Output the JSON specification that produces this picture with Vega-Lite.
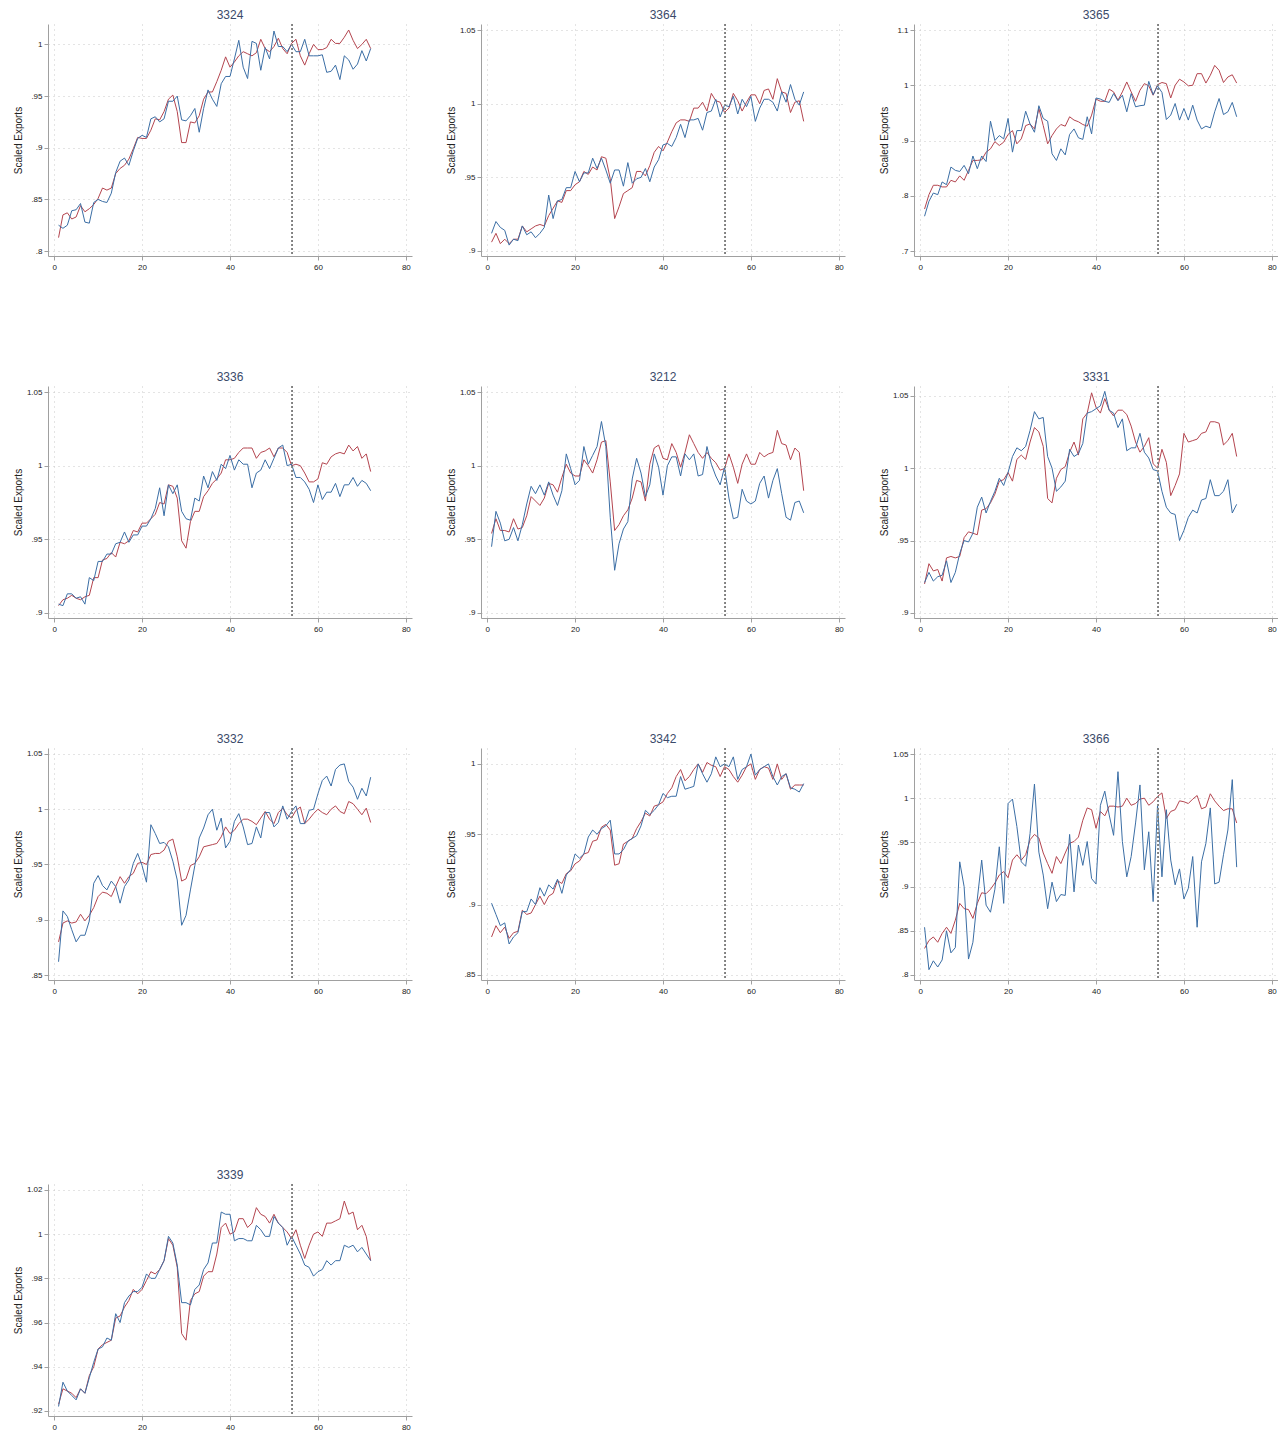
{
"$schema": "https://vega.github.io/schema/vega-lite/v6.json",
"padding": {"left": 13, "top": 8, "right": 0, "bottom": 0},
"background": "white",
"datasets": {
"p3324": [{"t":1,"r":0.813,"b":0.825},{"t":2,"r":0.835,"b":0.822},{"t":3,"r":0.837,"b":0.825},{"t":4,"r":0.831,"b":0.839},{"t":5,"r":0.833,"b":0.840},{"t":6,"r":0.844,"b":0.846},{"t":7,"r":0.838,"b":0.828},{"t":8,"r":0.841,"b":0.827},{"t":9,"r":0.845,"b":0.847},{"t":10,"r":0.851,"b":0.850},{"t":11,"r":0.861,"b":0.848},{"t":12,"r":0.859,"b":0.847},{"t":13,"r":0.861,"b":0.856},{"t":14,"r":0.875,"b":0.876},{"t":15,"r":0.880,"b":0.887},{"t":16,"r":0.883,"b":0.890},{"t":17,"r":0.889,"b":0.883},{"t":18,"r":0.899,"b":0.897},{"t":19,"r":0.910,"b":0.909},{"t":20,"r":0.909,"b":0.912},{"t":21,"r":0.909,"b":0.910},{"t":22,"r":0.917,"b":0.928},{"t":23,"r":0.928,"b":0.930},{"t":24,"r":0.927,"b":0.925},{"t":25,"r":0.935,"b":0.928},{"t":26,"r":0.947,"b":0.945},{"t":27,"r":0.951,"b":0.945},{"t":28,"r":0.935,"b":0.950},{"t":29,"r":0.905,"b":0.927},{"t":30,"r":0.905,"b":0.926},{"t":31,"r":0.925,"b":0.931},{"t":32,"r":0.924,"b":0.938},{"t":33,"r":0.931,"b":0.915},{"t":34,"r":0.947,"b":0.938},{"t":35,"r":0.954,"b":0.956},{"t":36,"r":0.954,"b":0.947},{"t":37,"r":0.964,"b":0.940},{"t":38,"r":0.975,"b":0.962},{"t":39,"r":0.988,"b":0.969},{"t":40,"r":0.978,"b":0.969},{"t":41,"r":0.983,"b":0.986},{"t":42,"r":0.989,"b":1.004},{"t":43,"r":0.993,"b":0.978},{"t":44,"r":0.991,"b":0.967},{"t":45,"r":0.989,"b":1.003},{"t":46,"r":0.992,"b":1.001},{"t":47,"r":1.005,"b":0.975},{"t":48,"r":0.996,"b":0.997},{"t":49,"r":0.993,"b":0.986},{"t":50,"r":0.998,"b":1.013},{"t":51,"r":1.006,"b":0.998},{"t":52,"r":0.996,"b":0.998},{"t":53,"r":0.991,"b":0.993},{"t":54,"r":1.001,"b":1.000},{"t":55,"r":1.005,"b":0.993},{"t":56,"r":0.989,"b":0.993},{"t":57,"r":0.980,"b":1.005},{"t":58,"r":0.991,"b":0.989},{"t":59,"r":1.000,"b":0.989},{"t":60,"r":0.995,"b":0.989},{"t":61,"r":0.995,"b":0.990},{"t":62,"r":0.997,"b":0.973},{"t":63,"r":1.005,"b":0.974},{"t":64,"r":1.001,"b":0.980},{"t":65,"r":1.001,"b":0.966},{"t":66,"r":1.007,"b":0.989},{"t":67,"r":1.014,"b":0.985},{"t":68,"r":1.004,"b":0.976},{"t":69,"r":0.996,"b":0.981},{"t":70,"r":1.000,"b":0.994},{"t":71,"r":1.005,"b":0.984},{"t":72,"r":0.996,"b":0.996}],
"p3364": [{"t":1,"r":0.906,"b":0.912},{"t":2,"r":0.912,"b":0.920},{"t":3,"r":0.905,"b":0.916},{"t":4,"r":0.908,"b":0.914},{"t":5,"r":0.905,"b":0.904},{"t":6,"r":0.908,"b":0.908},{"t":7,"r":0.908,"b":0.907},{"t":8,"r":0.917,"b":0.917},{"t":9,"r":0.913,"b":0.911},{"t":10,"r":0.915,"b":0.913},{"t":11,"r":0.917,"b":0.909},{"t":12,"r":0.918,"b":0.912},{"t":13,"r":0.917,"b":0.916},{"t":14,"r":0.924,"b":0.938},{"t":15,"r":0.929,"b":0.922},{"t":16,"r":0.934,"b":0.934},{"t":17,"r":0.933,"b":0.935},{"t":18,"r":0.941,"b":0.943},{"t":19,"r":0.941,"b":0.943},{"t":20,"r":0.945,"b":0.954},{"t":21,"r":0.947,"b":0.947},{"t":22,"r":0.954,"b":0.953},{"t":23,"r":0.952,"b":0.953},{"t":24,"r":0.957,"b":0.963},{"t":25,"r":0.955,"b":0.956},{"t":26,"r":0.964,"b":0.963},{"t":27,"r":0.963,"b":0.955},{"t":28,"r":0.949,"b":0.946},{"t":29,"r":0.922,"b":0.955},{"t":30,"r":0.930,"b":0.955},{"t":31,"r":0.939,"b":0.944},{"t":32,"r":0.941,"b":0.960},{"t":33,"r":0.943,"b":0.946},{"t":34,"r":0.954,"b":0.949},{"t":35,"r":0.954,"b":0.950},{"t":36,"r":0.951,"b":0.956},{"t":37,"r":0.958,"b":0.947},{"t":38,"r":0.967,"b":0.957},{"t":39,"r":0.971,"b":0.962},{"t":40,"r":0.968,"b":0.972},{"t":41,"r":0.974,"b":0.973},{"t":42,"r":0.981,"b":0.971},{"t":43,"r":0.987,"b":0.977},{"t":44,"r":0.989,"b":0.986},{"t":45,"r":0.989,"b":0.977},{"t":46,"r":0.988,"b":0.989},{"t":47,"r":0.997,"b":0.989},{"t":48,"r":0.997,"b":0.990},{"t":49,"r":1.001,"b":0.982},{"t":50,"r":0.995,"b":0.994},{"t":51,"r":1.007,"b":0.995},{"t":52,"r":1.002,"b":1.003},{"t":53,"r":1.001,"b":0.991},{"t":54,"r":0.994,"b":0.999},{"t":55,"r":0.997,"b":0.998},{"t":56,"r":1.007,"b":1.005},{"t":57,"r":1.002,"b":0.993},{"t":58,"r":0.995,"b":1.003},{"t":59,"r":1.001,"b":0.998},{"t":60,"r":1.006,"b":1.005},{"t":61,"r":1.006,"b":0.988},{"t":62,"r":1.000,"b":0.997},{"t":63,"r":1.009,"b":1.003},{"t":64,"r":1.010,"b":1.003},{"t":65,"r":1.003,"b":1.001},{"t":66,"r":1.017,"b":0.995},{"t":67,"r":1.008,"b":1.008},{"t":68,"r":1.007,"b":1.001},{"t":69,"r":0.994,"b":1.013},{"t":70,"r":1.001,"b":1.003},{"t":71,"r":1.002,"b":0.999},{"t":72,"r":0.988,"b":1.008}],
"p3365": [{"t":1,"r":0.776,"b":0.763},{"t":2,"r":0.802,"b":0.790},{"t":3,"r":0.819,"b":0.805},{"t":4,"r":0.819,"b":0.802},{"t":5,"r":0.816,"b":0.825},{"t":6,"r":0.816,"b":0.820},{"t":7,"r":0.828,"b":0.852},{"t":8,"r":0.825,"b":0.846},{"t":9,"r":0.836,"b":0.844},{"t":10,"r":0.828,"b":0.855},{"t":11,"r":0.846,"b":0.840},{"t":12,"r":0.864,"b":0.872},{"t":13,"r":0.864,"b":0.849},{"t":14,"r":0.865,"b":0.872},{"t":15,"r":0.879,"b":0.862},{"t":16,"r":0.885,"b":0.935},{"t":17,"r":0.898,"b":0.900},{"t":18,"r":0.891,"b":0.909},{"t":19,"r":0.897,"b":0.903},{"t":20,"r":0.911,"b":0.940},{"t":21,"r":0.918,"b":0.879},{"t":22,"r":0.894,"b":0.918},{"t":23,"r":0.903,"b":0.918},{"t":24,"r":0.927,"b":0.953},{"t":25,"r":0.930,"b":0.930},{"t":26,"r":0.921,"b":0.915},{"t":27,"r":0.958,"b":0.963},{"t":28,"r":0.927,"b":0.940},{"t":29,"r":0.894,"b":0.935},{"t":30,"r":0.909,"b":0.876},{"t":31,"r":0.921,"b":0.864},{"t":32,"r":0.929,"b":0.885},{"t":33,"r":0.926,"b":0.874},{"t":34,"r":0.943,"b":0.911},{"t":35,"r":0.937,"b":0.921},{"t":36,"r":0.934,"b":0.905},{"t":37,"r":0.929,"b":0.902},{"t":38,"r":0.926,"b":0.943},{"t":39,"r":0.946,"b":0.912},{"t":40,"r":0.975,"b":0.977},{"t":41,"r":0.971,"b":0.975},{"t":42,"r":0.971,"b":0.971},{"t":43,"r":0.993,"b":0.969},{"t":44,"r":0.988,"b":0.985},{"t":45,"r":0.973,"b":0.972},{"t":46,"r":0.988,"b":0.982},{"t":47,"r":1.006,"b":0.952},{"t":48,"r":0.988,"b":0.985},{"t":49,"r":0.971,"b":0.961},{"t":50,"r":0.991,"b":0.963},{"t":51,"r":1.003,"b":0.964},{"t":52,"r":0.999,"b":1.007},{"t":53,"r":0.982,"b":0.983},{"t":54,"r":1.001,"b":0.999},{"t":55,"r":1.005,"b":0.987},{"t":56,"r":1.003,"b":0.938},{"t":57,"r":0.977,"b":0.946},{"t":58,"r":1.000,"b":0.967},{"t":59,"r":1.011,"b":0.937},{"t":60,"r":1.006,"b":0.958},{"t":61,"r":0.999,"b":0.937},{"t":62,"r":1.000,"b":0.964},{"t":63,"r":1.021,"b":0.937},{"t":64,"r":1.021,"b":0.921},{"t":65,"r":1.004,"b":0.926},{"t":66,"r":1.018,"b":0.923},{"t":67,"r":1.036,"b":0.952},{"t":68,"r":1.027,"b":0.976},{"t":69,"r":1.005,"b":0.947},{"t":70,"r":1.015,"b":0.952},{"t":71,"r":1.019,"b":0.969},{"t":72,"r":1.004,"b":0.943}],
"p3336": [{"t":1,"r":0.905,"b":0.906},{"t":2,"r":0.909,"b":0.905},{"t":3,"r":0.910,"b":0.913},{"t":4,"r":0.912,"b":0.913},{"t":5,"r":0.910,"b":0.910},{"t":6,"r":0.909,"b":0.911},{"t":7,"r":0.911,"b":0.906},{"t":8,"r":0.912,"b":0.924},{"t":9,"r":0.924,"b":0.922},{"t":10,"r":0.924,"b":0.935},{"t":11,"r":0.936,"b":0.935},{"t":12,"r":0.937,"b":0.940},{"t":13,"r":0.941,"b":0.940},{"t":14,"r":0.938,"b":0.947},{"t":15,"r":0.948,"b":0.948},{"t":16,"r":0.947,"b":0.955},{"t":17,"r":0.949,"b":0.948},{"t":18,"r":0.956,"b":0.953},{"t":19,"r":0.955,"b":0.953},{"t":20,"r":0.961,"b":0.959},{"t":21,"r":0.961,"b":0.959},{"t":22,"r":0.964,"b":0.964},{"t":23,"r":0.967,"b":0.971},{"t":24,"r":0.975,"b":0.985},{"t":25,"r":0.974,"b":0.966},{"t":26,"r":0.987,"b":0.987},{"t":27,"r":0.986,"b":0.981},{"t":28,"r":0.978,"b":0.987},{"t":29,"r":0.949,"b":0.969},{"t":30,"r":0.944,"b":0.964},{"t":31,"r":0.962,"b":0.963},{"t":32,"r":0.969,"b":0.978},{"t":33,"r":0.969,"b":0.976},{"t":34,"r":0.979,"b":0.993},{"t":35,"r":0.983,"b":0.985},{"t":36,"r":0.988,"b":0.996},{"t":37,"r":0.991,"b":0.990},{"t":38,"r":0.995,"b":1.001},{"t":39,"r":1.004,"b":0.998},{"t":40,"r":1.004,"b":1.007},{"t":41,"r":1.005,"b":0.997},{"t":42,"r":1.009,"b":1.004},{"t":43,"r":1.012,"b":1.001},{"t":44,"r":1.012,"b":1.001},{"t":45,"r":1.012,"b":0.985},{"t":46,"r":1.005,"b":0.995},{"t":47,"r":1.009,"b":0.997},{"t":48,"r":1.010,"b":1.004},{"t":49,"r":1.012,"b":0.998},{"t":50,"r":1.006,"b":1.005},{"t":51,"r":1.012,"b":1.012},{"t":52,"r":1.012,"b":1.014},{"t":53,"r":1.009,"b":1.000},{"t":54,"r":1.000,"b":1.001},{"t":55,"r":1.001,"b":0.992},{"t":56,"r":1.000,"b":0.992},{"t":57,"r":0.995,"b":0.989},{"t":58,"r":0.989,"b":0.984},{"t":59,"r":0.989,"b":0.975},{"t":60,"r":0.991,"b":0.987},{"t":61,"r":1.002,"b":0.977},{"t":62,"r":1.001,"b":0.982},{"t":63,"r":1.006,"b":0.982},{"t":64,"r":1.008,"b":0.988},{"t":65,"r":1.009,"b":0.979},{"t":66,"r":1.008,"b":0.987},{"t":67,"r":1.014,"b":0.987},{"t":68,"r":1.010,"b":0.992},{"t":69,"r":1.013,"b":0.986},{"t":70,"r":1.005,"b":0.990},{"t":71,"r":1.008,"b":0.988},{"t":72,"r":0.996,"b":0.983}],
"p3212": [{"t":1,"r":0.954,"b":0.945},{"t":2,"r":0.964,"b":0.969},{"t":3,"r":0.956,"b":0.961},{"t":4,"r":0.956,"b":0.949},{"t":5,"r":0.955,"b":0.950},{"t":6,"r":0.964,"b":0.958},{"t":7,"r":0.957,"b":0.949},{"t":8,"r":0.958,"b":0.960},{"t":9,"r":0.966,"b":0.974},{"t":10,"r":0.979,"b":0.986},{"t":11,"r":0.976,"b":0.981},{"t":12,"r":0.973,"b":0.987},{"t":13,"r":0.978,"b":0.980},{"t":14,"r":0.988,"b":0.989},{"t":15,"r":0.987,"b":0.980},{"t":16,"r":0.982,"b":0.973},{"t":17,"r":0.992,"b":0.983},{"t":18,"r":1.001,"b":1.008},{"t":19,"r":0.995,"b":0.998},{"t":20,"r":0.993,"b":0.987},{"t":21,"r":0.993,"b":0.990},{"t":22,"r":1.004,"b":1.013},{"t":23,"r":1.000,"b":1.001},{"t":24,"r":0.995,"b":1.007},{"t":25,"r":1.004,"b":1.013},{"t":26,"r":1.016,"b":1.030},{"t":27,"r":1.017,"b":1.013},{"t":28,"r":0.989,"b":0.965},{"t":29,"r":0.956,"b":0.929},{"t":30,"r":0.960,"b":0.947},{"t":31,"r":0.966,"b":0.957},{"t":32,"r":0.970,"b":0.962},{"t":33,"r":0.978,"b":0.991},{"t":34,"r":0.990,"b":1.005},{"t":35,"r":0.989,"b":0.995},{"t":36,"r":0.976,"b":0.979},{"t":37,"r":1.001,"b":0.987},{"t":38,"r":1.012,"b":1.008},{"t":39,"r":1.014,"b":0.999},{"t":40,"r":1.005,"b":0.980},{"t":41,"r":1.004,"b":1.000},{"t":42,"r":1.015,"b":1.006},{"t":43,"r":1.009,"b":1.006},{"t":44,"r":0.999,"b":0.993},{"t":45,"r":1.009,"b":1.008},{"t":46,"r":1.021,"b":1.004},{"t":47,"r":1.015,"b":1.008},{"t":48,"r":1.009,"b":0.993},{"t":49,"r":1.005,"b":0.994},{"t":50,"r":1.009,"b":1.013},{"t":51,"r":1.005,"b":1.001},{"t":52,"r":1.002,"b":0.993},{"t":53,"r":0.997,"b":0.987},{"t":54,"r":0.998,"b":0.999},{"t":55,"r":1.008,"b":0.978},{"t":56,"r":0.999,"b":0.964},{"t":57,"r":0.988,"b":0.965},{"t":58,"r":1.001,"b":0.984},{"t":59,"r":1.008,"b":0.976},{"t":60,"r":1.001,"b":0.974},{"t":61,"r":1.001,"b":0.976},{"t":62,"r":1.009,"b":0.988},{"t":63,"r":1.006,"b":0.993},{"t":64,"r":1.008,"b":0.978},{"t":65,"r":1.009,"b":0.990},{"t":66,"r":1.024,"b":0.998},{"t":67,"r":1.015,"b":0.981},{"t":68,"r":1.014,"b":0.965},{"t":69,"r":1.004,"b":0.963},{"t":70,"r":1.012,"b":0.975},{"t":71,"r":1.009,"b":0.976},{"t":72,"r":0.983,"b":0.968}],
"p3331": [{"t":1,"r":0.920,"b":0.921},{"t":2,"r":0.934,"b":0.928},{"t":3,"r":0.929,"b":0.922},{"t":4,"r":0.930,"b":0.925},{"t":5,"r":0.922,"b":0.926},{"t":6,"r":0.938,"b":0.936},{"t":7,"r":0.939,"b":0.921},{"t":8,"r":0.938,"b":0.928},{"t":9,"r":0.939,"b":0.941},{"t":10,"r":0.952,"b":0.950},{"t":11,"r":0.956,"b":0.949},{"t":12,"r":0.955,"b":0.955},{"t":13,"r":0.954,"b":0.973},{"t":14,"r":0.971,"b":0.980},{"t":15,"r":0.972,"b":0.969},{"t":16,"r":0.976,"b":0.977},{"t":17,"r":0.982,"b":0.984},{"t":18,"r":0.991,"b":0.993},{"t":19,"r":0.992,"b":0.988},{"t":20,"r":0.997,"b":0.997},{"t":21,"r":0.991,"b":1.008},{"t":22,"r":1.006,"b":1.014},{"t":23,"r":1.009,"b":1.012},{"t":24,"r":1.006,"b":1.015},{"t":25,"r":1.018,"b":1.026},{"t":26,"r":1.028,"b":1.039},{"t":27,"r":1.025,"b":1.034},{"t":28,"r":1.015,"b":1.035},{"t":29,"r":0.979,"b":1.008},{"t":30,"r":0.976,"b":1.000},{"t":31,"r":0.993,"b":0.984},{"t":32,"r":0.999,"b":0.987},{"t":33,"r":1.001,"b":0.991},{"t":34,"r":1.011,"b":1.013},{"t":35,"r":1.018,"b":1.008},{"t":36,"r":1.009,"b":1.010},{"t":37,"r":1.034,"b":1.017},{"t":38,"r":1.038,"b":1.038},{"t":39,"r":1.052,"b":1.039},{"t":40,"r":1.042,"b":1.041},{"t":41,"r":1.038,"b":1.043},{"t":42,"r":1.048,"b":1.053},{"t":43,"r":1.040,"b":1.040},{"t":44,"r":1.036,"b":1.038},{"t":45,"r":1.040,"b":1.028},{"t":46,"r":1.040,"b":1.034},{"t":47,"r":1.037,"b":1.012},{"t":48,"r":1.029,"b":1.014},{"t":49,"r":1.018,"b":1.014},{"t":50,"r":1.011,"b":1.024},{"t":51,"r":1.015,"b":1.011},{"t":52,"r":1.021,"b":1.007},{"t":53,"r":1.003,"b":0.999},{"t":54,"r":1.000,"b":0.998},{"t":55,"r":1.013,"b":0.984},{"t":56,"r":1.004,"b":0.973},{"t":57,"r":0.981,"b":0.969},{"t":58,"r":0.988,"b":0.968},{"t":59,"r":0.996,"b":0.950},{"t":60,"r":1.024,"b":0.957},{"t":61,"r":1.018,"b":0.966},{"t":62,"r":1.019,"b":0.971},{"t":63,"r":1.020,"b":0.969},{"t":64,"r":1.024,"b":0.978},{"t":65,"r":1.025,"b":0.979},{"t":66,"r":1.032,"b":0.992},{"t":67,"r":1.032,"b":0.981},{"t":68,"r":1.031,"b":0.981},{"t":69,"r":1.016,"b":0.984},{"t":70,"r":1.019,"b":0.992},{"t":71,"r":1.024,"b":0.969},{"t":72,"r":1.008,"b":0.975}],
"p3332": [{"t":1,"r":0.880,"b":0.862},{"t":2,"r":0.897,"b":0.908},{"t":3,"r":0.899,"b":0.903},{"t":4,"r":0.897,"b":0.891},{"t":5,"r":0.898,"b":0.880},{"t":6,"r":0.905,"b":0.886},{"t":7,"r":0.899,"b":0.886},{"t":8,"r":0.904,"b":0.899},{"t":9,"r":0.911,"b":0.933},{"t":10,"r":0.921,"b":0.940},{"t":11,"r":0.925,"b":0.931},{"t":12,"r":0.924,"b":0.927},{"t":13,"r":0.921,"b":0.935},{"t":14,"r":0.930,"b":0.930},{"t":15,"r":0.939,"b":0.915},{"t":16,"r":0.933,"b":0.930},{"t":17,"r":0.939,"b":0.936},{"t":18,"r":0.942,"b":0.951},{"t":19,"r":0.951,"b":0.960},{"t":20,"r":0.952,"b":0.949},{"t":21,"r":0.950,"b":0.934},{"t":22,"r":0.959,"b":0.986},{"t":23,"r":0.960,"b":0.978},{"t":24,"r":0.960,"b":0.969},{"t":25,"r":0.963,"b":0.970},{"t":26,"r":0.971,"b":0.966},{"t":27,"r":0.973,"b":0.953},{"t":28,"r":0.957,"b":0.936},{"t":29,"r":0.935,"b":0.895},{"t":30,"r":0.937,"b":0.904},{"t":31,"r":0.949,"b":0.927},{"t":32,"r":0.951,"b":0.949},{"t":33,"r":0.957,"b":0.974},{"t":34,"r":0.966,"b":0.983},{"t":35,"r":0.967,"b":0.995},{"t":36,"r":0.968,"b":1.000},{"t":37,"r":0.969,"b":0.981},{"t":38,"r":0.975,"b":0.992},{"t":39,"r":0.984,"b":0.965},{"t":40,"r":0.978,"b":0.971},{"t":41,"r":0.981,"b":0.989},{"t":42,"r":0.987,"b":0.996},{"t":43,"r":0.991,"b":0.984},{"t":44,"r":0.991,"b":0.968},{"t":45,"r":0.989,"b":0.969},{"t":46,"r":0.986,"b":0.984},{"t":47,"r":0.992,"b":0.974},{"t":48,"r":0.998,"b":0.997},{"t":49,"r":0.991,"b":0.997},{"t":50,"r":0.987,"b":0.984},{"t":51,"r":0.997,"b":0.988},{"t":52,"r":1.001,"b":1.003},{"t":53,"r":0.995,"b":0.991},{"t":54,"r":0.992,"b":0.998},{"t":55,"r":0.999,"b":1.003},{"t":56,"r":1.002,"b":0.987},{"t":57,"r":0.987,"b":0.987},{"t":58,"r":0.991,"b":0.999},{"t":59,"r":0.996,"b":1.000},{"t":60,"r":1.000,"b":1.014},{"t":61,"r":0.997,"b":1.026},{"t":62,"r":0.995,"b":1.030},{"t":63,"r":1.000,"b":1.021},{"t":64,"r":1.003,"b":1.036},{"t":65,"r":0.998,"b":1.040},{"t":66,"r":0.996,"b":1.041},{"t":67,"r":1.007,"b":1.025},{"t":68,"r":1.005,"b":1.020},{"t":69,"r":1.000,"b":1.009},{"t":70,"r":0.995,"b":1.019},{"t":71,"r":1.001,"b":1.012},{"t":72,"r":0.988,"b":1.029}],
"p3342": [{"t":1,"r":0.877,"b":0.901},{"t":2,"r":0.885,"b":0.893},{"t":3,"r":0.880,"b":0.885},{"t":4,"r":0.884,"b":0.887},{"t":5,"r":0.876,"b":0.872},{"t":6,"r":0.880,"b":0.877},{"t":7,"r":0.881,"b":0.880},{"t":8,"r":0.896,"b":0.895},{"t":9,"r":0.893,"b":0.895},{"t":10,"r":0.894,"b":0.904},{"t":11,"r":0.900,"b":0.900},{"t":12,"r":0.906,"b":0.912},{"t":13,"r":0.900,"b":0.906},{"t":14,"r":0.906,"b":0.914},{"t":15,"r":0.908,"b":0.911},{"t":16,"r":0.917,"b":0.918},{"t":17,"r":0.915,"b":0.908},{"t":18,"r":0.922,"b":0.921},{"t":19,"r":0.924,"b":0.925},{"t":20,"r":0.929,"b":0.936},{"t":21,"r":0.931,"b":0.933},{"t":22,"r":0.936,"b":0.936},{"t":23,"r":0.937,"b":0.948},{"t":24,"r":0.945,"b":0.953},{"t":25,"r":0.946,"b":0.950},{"t":26,"r":0.955,"b":0.954},{"t":27,"r":0.957,"b":0.956},{"t":28,"r":0.953,"b":0.960},{"t":29,"r":0.928,"b":0.936},{"t":30,"r":0.929,"b":0.936},{"t":31,"r":0.943,"b":0.939},{"t":32,"r":0.945,"b":0.945},{"t":33,"r":0.947,"b":0.947},{"t":34,"r":0.954,"b":0.949},{"t":35,"r":0.959,"b":0.956},{"t":36,"r":0.965,"b":0.967},{"t":37,"r":0.963,"b":0.964},{"t":38,"r":0.970,"b":0.967},{"t":39,"r":0.971,"b":0.971},{"t":40,"r":0.973,"b":0.979},{"t":41,"r":0.979,"b":0.976},{"t":42,"r":0.983,"b":0.977},{"t":43,"r":0.991,"b":0.977},{"t":44,"r":0.996,"b":0.991},{"t":45,"r":0.988,"b":0.982},{"t":46,"r":0.991,"b":0.983},{"t":47,"r":0.996,"b":0.984},{"t":48,"r":1.000,"b":1.000},{"t":49,"r":0.994,"b":0.993},{"t":50,"r":1.001,"b":0.987},{"t":51,"r":0.999,"b":0.993},{"t":52,"r":0.998,"b":1.005},{"t":53,"r":0.991,"b":0.998},{"t":54,"r":0.998,"b":1.000},{"t":55,"r":0.996,"b":0.998},{"t":56,"r":0.991,"b":1.005},{"t":57,"r":0.987,"b":0.989},{"t":58,"r":0.992,"b":0.996},{"t":59,"r":0.998,"b":0.998},{"t":60,"r":1.000,"b":1.007},{"t":61,"r":0.989,"b":0.992},{"t":62,"r":0.996,"b":0.996},{"t":63,"r":0.998,"b":0.998},{"t":64,"r":0.997,"b":1.000},{"t":65,"r":0.989,"b":0.991},{"t":66,"r":1.000,"b":0.985},{"t":67,"r":0.989,"b":0.991},{"t":68,"r":0.993,"b":0.993},{"t":69,"r":0.982,"b":0.983},{"t":70,"r":0.985,"b":0.982},{"t":71,"r":0.985,"b":0.980},{"t":72,"r":0.985,"b":0.986}],
"p3366": [{"t":1,"r":0.830,"b":0.854},{"t":2,"r":0.839,"b":0.806},{"t":3,"r":0.843,"b":0.816},{"t":4,"r":0.837,"b":0.809},{"t":5,"r":0.847,"b":0.817},{"t":6,"r":0.854,"b":0.850},{"t":7,"r":0.847,"b":0.825},{"t":8,"r":0.862,"b":0.831},{"t":9,"r":0.881,"b":0.928},{"t":10,"r":0.875,"b":0.900},{"t":11,"r":0.874,"b":0.818},{"t":12,"r":0.864,"b":0.837},{"t":13,"r":0.881,"b":0.886},{"t":14,"r":0.893,"b":0.930},{"t":15,"r":0.892,"b":0.879},{"t":16,"r":0.897,"b":0.871},{"t":17,"r":0.904,"b":0.897},{"t":18,"r":0.913,"b":0.945},{"t":19,"r":0.917,"b":0.881},{"t":20,"r":0.910,"b":0.994},{"t":21,"r":0.930,"b":0.999},{"t":22,"r":0.936,"b":0.968},{"t":23,"r":0.930,"b":0.928},{"t":24,"r":0.936,"b":0.923},{"t":25,"r":0.953,"b":0.960},{"t":26,"r":0.959,"b":1.016},{"t":27,"r":0.955,"b":0.939},{"t":28,"r":0.938,"b":0.913},{"t":29,"r":0.926,"b":0.875},{"t":30,"r":0.915,"b":0.905},{"t":31,"r":0.934,"b":0.883},{"t":32,"r":0.926,"b":0.891},{"t":33,"r":0.938,"b":0.890},{"t":34,"r":0.949,"b":0.959},{"t":35,"r":0.951,"b":0.894},{"t":36,"r":0.956,"b":0.947},{"t":37,"r":0.975,"b":0.924},{"t":38,"r":0.989,"b":0.951},{"t":39,"r":0.987,"b":0.909},{"t":40,"r":0.966,"b":0.903},{"t":41,"r":0.985,"b":0.992},{"t":42,"r":0.980,"b":1.008},{"t":43,"r":0.991,"b":0.981},{"t":44,"r":0.991,"b":0.958},{"t":45,"r":0.990,"b":1.030},{"t":46,"r":0.991,"b":0.951},{"t":47,"r":1.000,"b":0.911},{"t":48,"r":0.992,"b":0.934},{"t":49,"r":0.994,"b":0.972},{"t":50,"r":0.999,"b":1.015},{"t":51,"r":1.000,"b":0.919},{"t":52,"r":0.992,"b":0.962},{"t":53,"r":0.996,"b":0.883},{"t":54,"r":1.002,"b":0.992},{"t":55,"r":1.006,"b":0.911},{"t":56,"r":0.977,"b":0.987},{"t":57,"r":0.985,"b":0.930},{"t":58,"r":0.987,"b":0.902},{"t":59,"r":0.997,"b":0.920},{"t":60,"r":0.996,"b":0.886},{"t":61,"r":0.994,"b":0.898},{"t":62,"r":0.999,"b":0.934},{"t":63,"r":1.003,"b":0.854},{"t":64,"r":0.988,"b":0.928},{"t":65,"r":0.990,"b":0.949},{"t":66,"r":1.005,"b":0.989},{"t":67,"r":0.997,"b":0.903},{"t":68,"r":0.991,"b":0.905},{"t":69,"r":0.986,"b":0.936},{"t":70,"r":0.988,"b":0.964},{"t":71,"r":0.988,"b":1.021},{"t":72,"r":0.972,"b":0.922}],
"p3339": [{"t":1,"r":0.923,"b":0.922},{"t":2,"r":0.930,"b":0.933},{"t":3,"r":0.929,"b":0.929},{"t":4,"r":0.928,"b":0.927},{"t":5,"r":0.926,"b":0.925},{"t":6,"r":0.930,"b":0.930},{"t":7,"r":0.928,"b":0.928},{"t":8,"r":0.936,"b":0.935},{"t":9,"r":0.940,"b":0.942},{"t":10,"r":0.948,"b":0.948},{"t":11,"r":0.950,"b":0.949},{"t":12,"r":0.951,"b":0.953},{"t":13,"r":0.952,"b":0.952},{"t":14,"r":0.962,"b":0.964},{"t":15,"r":0.963,"b":0.960},{"t":16,"r":0.967,"b":0.969},{"t":17,"r":0.970,"b":0.972},{"t":18,"r":0.975,"b":0.974},{"t":19,"r":0.973,"b":0.974},{"t":20,"r":0.975,"b":0.976},{"t":21,"r":0.979,"b":0.982},{"t":22,"r":0.983,"b":0.980},{"t":23,"r":0.982,"b":0.980},{"t":24,"r":0.984,"b":0.984},{"t":25,"r":0.988,"b":0.988},{"t":26,"r":0.998,"b":0.999},{"t":27,"r":0.995,"b":0.996},{"t":28,"r":0.985,"b":0.986},{"t":29,"r":0.955,"b":0.969},{"t":30,"r":0.952,"b":0.969},{"t":31,"r":0.970,"b":0.968},{"t":32,"r":0.973,"b":0.975},{"t":33,"r":0.974,"b":0.977},{"t":34,"r":0.981,"b":0.984},{"t":35,"r":0.983,"b":0.987},{"t":36,"r":0.983,"b":0.996},{"t":37,"r":0.991,"b":0.996},{"t":38,"r":1.003,"b":1.010},{"t":39,"r":1.005,"b":1.009},{"t":40,"r":1.000,"b":1.009},{"t":41,"r":1.001,"b":0.997},{"t":42,"r":1.007,"b":0.998},{"t":43,"r":1.007,"b":0.998},{"t":44,"r":1.003,"b":0.997},{"t":45,"r":1.005,"b":0.997},{"t":46,"r":1.012,"b":1.004},{"t":47,"r":1.009,"b":1.002},{"t":48,"r":1.008,"b":0.999},{"t":49,"r":1.005,"b":0.999},{"t":50,"r":1.009,"b":1.008},{"t":51,"r":1.005,"b":1.005},{"t":52,"r":1.003,"b":1.003},{"t":53,"r":1.001,"b":0.995},{"t":54,"r":0.998,"b":0.999},{"t":55,"r":1.002,"b":0.995},{"t":56,"r":0.995,"b":0.991},{"t":57,"r":0.989,"b":0.986},{"t":58,"r":0.995,"b":0.985},{"t":59,"r":1.000,"b":0.981},{"t":60,"r":1.001,"b":0.983},{"t":61,"r":0.999,"b":0.984},{"t":62,"r":1.005,"b":0.988},{"t":63,"r":1.005,"b":0.986},{"t":64,"r":1.006,"b":0.988},{"t":65,"r":1.007,"b":0.988},{"t":66,"r":1.015,"b":0.995},{"t":67,"r":1.009,"b":0.994},{"t":68,"r":1.010,"b":0.995},{"t":69,"r":1.002,"b":0.992},{"t":70,"r":1.004,"b":0.994},{"t":71,"r":0.999,"b":0.991},{"t":72,"r":0.988,"b":0.988}]
},
"vconcat": [
 {"vconcat": [
  {"hconcat": [
   {"title": "3324", "width": 364, "height": 232, "data": {"name": "p3324"}, "transform": [{"fold": ["r","b"], "as": ["s","v"]}],
    "layer": [
     {"mark": {"type": "line", "strokeWidth": 1}, "encoding": {"x": {"field": "t", "type": "quantitative", "scale": {"domain": [-1.4, 81.4], "nice": false, "zero": false}, "axis": {"values": [0,20,40,60,80], "title": null}}, "y": {"field": "v", "type": "quantitative", "scale": {"domain": [0.7952, 1.0198], "nice": false, "zero": false}, "axis": {"values": [0.8,0.85,0.9,0.95,1], "title": "Scaled Exports"}}, "color": {"field": "s", "type": "nominal", "scale": {"domain": ["r","b"], "range": ["#b4454f","#3b6ea5"]}, "legend": null}}},
     {"mark": {"type": "rule", "color": "#8a8a8a", "strokeDash": [2,2], "strokeWidth": 1}, "encoding": {"x": {"datum": 54}}}]},
   {"title": "3364", "width": 364, "height": 232, "data": {"name": "p3364"}, "transform": [{"fold": ["r","b"], "as": ["s","v"]}],
    "layer": [
     {"mark": {"type": "line", "strokeWidth": 1}, "encoding": {"x": {"field": "t", "type": "quantitative", "scale": {"domain": [-1.4, 81.4], "nice": false, "zero": false}, "axis": {"values": [0,20,40,60,80], "title": null}}, "y": {"field": "v", "type": "quantitative", "scale": {"domain": [0.8966, 1.0541], "nice": false, "zero": false}, "axis": {"values": [0.9,0.95,1,1.05], "title": "Scaled Exports"}}, "color": {"field": "s", "type": "nominal", "scale": {"domain": ["r","b"], "range": ["#b4454f","#3b6ea5"]}, "legend": null}}},
     {"mark": {"type": "rule", "color": "#8a8a8a", "strokeDash": [2,2], "strokeWidth": 1}, "encoding": {"x": {"datum": 54}}}]},
   {"title": "3365", "width": 364, "height": 232, "data": {"name": "p3365"}, "transform": [{"fold": ["r","b"], "as": ["s","v"]}],
    "layer": [
     {"mark": {"type": "line", "strokeWidth": 1}, "encoding": {"x": {"field": "t", "type": "quantitative", "scale": {"domain": [-1.4, 81.4], "nice": false, "zero": false}, "axis": {"values": [0,20,40,60,80], "title": null}}, "y": {"field": "v", "type": "quantitative", "scale": {"domain": [0.691, 1.1109], "nice": false, "zero": false}, "axis": {"values": [0.7,0.8,0.9,1,1.1], "title": "Scaled Exports"}}, "color": {"field": "s", "type": "nominal", "scale": {"domain": ["r","b"], "range": ["#b4454f","#3b6ea5"]}, "legend": null}}},
     {"mark": {"type": "rule", "color": "#8a8a8a", "strokeDash": [2,2], "strokeWidth": 1}, "encoding": {"x": {"datum": 54}}}]}
  ], "spacing": 34},
  {"hconcat": [
   {"title": "3336", "width": 364, "height": 232, "data": {"name": "p3336"}, "transform": [{"fold": ["r","b"], "as": ["s","v"]}],
    "layer": [
     {"mark": {"type": "line", "strokeWidth": 1}, "encoding": {"x": {"field": "t", "type": "quantitative", "scale": {"domain": [-1.4, 81.4], "nice": false, "zero": false}, "axis": {"values": [0,20,40,60,80], "title": null}}, "y": {"field": "v", "type": "quantitative", "scale": {"domain": [0.8966, 1.0541], "nice": false, "zero": false}, "axis": {"values": [0.9,0.95,1,1.05], "title": "Scaled Exports"}}, "color": {"field": "s", "type": "nominal", "scale": {"domain": ["r","b"], "range": ["#b4454f","#3b6ea5"]}, "legend": null}}},
     {"mark": {"type": "rule", "color": "#8a8a8a", "strokeDash": [2,2], "strokeWidth": 1}, "encoding": {"x": {"datum": 54}}}]},
   {"title": "3212", "width": 364, "height": 232, "data": {"name": "p3212"}, "transform": [{"fold": ["r","b"], "as": ["s","v"]}],
    "layer": [
     {"mark": {"type": "line", "strokeWidth": 1}, "encoding": {"x": {"field": "t", "type": "quantitative", "scale": {"domain": [-1.4, 81.4], "nice": false, "zero": false}, "axis": {"values": [0,20,40,60,80], "title": null}}, "y": {"field": "v", "type": "quantitative", "scale": {"domain": [0.8966, 1.0541], "nice": false, "zero": false}, "axis": {"values": [0.9,0.95,1,1.05], "title": "Scaled Exports"}}, "color": {"field": "s", "type": "nominal", "scale": {"domain": ["r","b"], "range": ["#b4454f","#3b6ea5"]}, "legend": null}}},
     {"mark": {"type": "rule", "color": "#8a8a8a", "strokeDash": [2,2], "strokeWidth": 1}, "encoding": {"x": {"datum": 54}}}]},
   {"title": "3331", "width": 364, "height": 232, "data": {"name": "p3331"}, "transform": [{"fold": ["r","b"], "as": ["s","v"]}],
    "layer": [
     {"mark": {"type": "line", "strokeWidth": 1}, "encoding": {"x": {"field": "t", "type": "quantitative", "scale": {"domain": [-1.4, 81.4], "nice": false, "zero": false}, "axis": {"values": [0,20,40,60,80], "title": null}}, "y": {"field": "v", "type": "quantitative", "scale": {"domain": [0.8965, 1.0567], "nice": false, "zero": false}, "axis": {"values": [0.9,0.95,1,1.05], "title": "Scaled Exports"}}, "color": {"field": "s", "type": "nominal", "scale": {"domain": ["r","b"], "range": ["#b4454f","#3b6ea5"]}, "legend": null}}},
     {"mark": {"type": "rule", "color": "#8a8a8a", "strokeDash": [2,2], "strokeWidth": 1}, "encoding": {"x": {"datum": 54}}}]}
  ], "spacing": 34},
  {"hconcat": [
   {"title": "3332", "width": 364, "height": 232, "data": {"name": "p3332"}, "transform": [{"fold": ["r","b"], "as": ["s","v"]}],
    "layer": [
     {"mark": {"type": "line", "strokeWidth": 1}, "encoding": {"x": {"field": "t", "type": "quantitative", "scale": {"domain": [-1.4, 81.4], "nice": false, "zero": false}, "axis": {"values": [0,20,40,60,80], "title": null}}, "y": {"field": "v", "type": "quantitative", "scale": {"domain": [0.8455, 1.0554], "nice": false, "zero": false}, "axis": {"values": [0.85,0.9,0.95,1,1.05], "title": "Scaled Exports"}}, "color": {"field": "s", "type": "nominal", "scale": {"domain": ["r","b"], "range": ["#b4454f","#3b6ea5"]}, "legend": null}}},
     {"mark": {"type": "rule", "color": "#8a8a8a", "strokeDash": [2,2], "strokeWidth": 1}, "encoding": {"x": {"datum": 54}}}]},
   {"title": "3342", "width": 364, "height": 232, "data": {"name": "p3342"}, "transform": [{"fold": ["r","b"], "as": ["s","v"]}],
    "layer": [
     {"mark": {"type": "line", "strokeWidth": 1}, "encoding": {"x": {"field": "t", "type": "quantitative", "scale": {"domain": [-1.4, 81.4], "nice": false, "zero": false}, "axis": {"values": [0,20,40,60,80], "title": null}}, "y": {"field": "v", "type": "quantitative", "scale": {"domain": [0.8464, 1.0113], "nice": false, "zero": false}, "axis": {"values": [0.85,0.9,0.95,1], "title": "Scaled Exports"}}, "color": {"field": "s", "type": "nominal", "scale": {"domain": ["r","b"], "range": ["#b4454f","#3b6ea5"]}, "legend": null}}},
     {"mark": {"type": "rule", "color": "#8a8a8a", "strokeDash": [2,2], "strokeWidth": 1}, "encoding": {"x": {"datum": 54}}}]},
   {"title": "3366", "width": 364, "height": 232, "data": {"name": "p3366"}, "transform": [{"fold": ["r","b"], "as": ["s","v"]}],
    "layer": [
     {"mark": {"type": "line", "strokeWidth": 1}, "encoding": {"x": {"field": "t", "type": "quantitative", "scale": {"domain": [-1.4, 81.4], "nice": false, "zero": false}, "axis": {"values": [0,20,40,60,80], "title": null}}, "y": {"field": "v", "type": "quantitative", "scale": {"domain": [0.7943, 1.0568], "nice": false, "zero": false}, "axis": {"values": [0.8,0.85,0.9,0.95,1,1.05], "title": "Scaled Exports"}}, "color": {"field": "s", "type": "nominal", "scale": {"domain": ["r","b"], "range": ["#b4454f","#3b6ea5"]}, "legend": null}}},
     {"mark": {"type": "rule", "color": "#8a8a8a", "strokeDash": [2,2], "strokeWidth": 1}, "encoding": {"x": {"datum": 54}}}]}
  ], "spacing": 34}
 ], "spacing": 99},
 {"hconcat": [
   {"title": "3339", "width": 364, "height": 232, "data": {"name": "p3339"}, "transform": [{"fold": ["r","b"], "as": ["s","v"]}],
    "layer": [
     {"mark": {"type": "line", "strokeWidth": 1}, "encoding": {"x": {"field": "t", "type": "quantitative", "scale": {"domain": [-1.4, 81.4], "nice": false, "zero": false}, "axis": {"values": [0,20,40,60,80], "title": null}}, "y": {"field": "v", "type": "quantitative", "scale": {"domain": [0.9177, 1.0227], "nice": false, "zero": false}, "axis": {"values": [0.92,0.94,0.96,0.98,1,1.02], "title": "Scaled Exports"}}, "color": {"field": "s", "type": "nominal", "scale": {"domain": ["r","b"], "range": ["#b4454f","#3b6ea5"]}, "legend": null}}},
     {"mark": {"type": "rule", "color": "#8a8a8a", "strokeDash": [2,2], "strokeWidth": 1}, "encoding": {"x": {"datum": 54}}}]}
 ]}
],
"spacing": 173,
"config": {
 "font": "Liberation Sans",
 "view": {"stroke": null},
 "axis": {"domainColor": "#a0a0a0", "tickColor": "#a0a0a0", "tickSize": 4, "labelFontSize": 8, "labelColor": "#222222", "labelPadding": 2, "grid": true, "gridColor": "#c8c8c8", "gridDash": [1,4], "titleFontWeight": "normal", "titleFontSize": 10, "titleColor": "#222222", "labelFlush": false},
 "axisY": {"minExtent": 20, "maxExtent": 20, "titlePadding": 5, "format": "~g", "labelExpr": "datum.value < 1 ? substring(datum.label, 1) : datum.label"},
 "axisX": {"labelPadding": 3},
 "title": {"fontSize": 12, "fontWeight": "normal", "color": "#3a4a6a", "offset": 2, "anchor": "middle", "frame": "group"}
}
}
